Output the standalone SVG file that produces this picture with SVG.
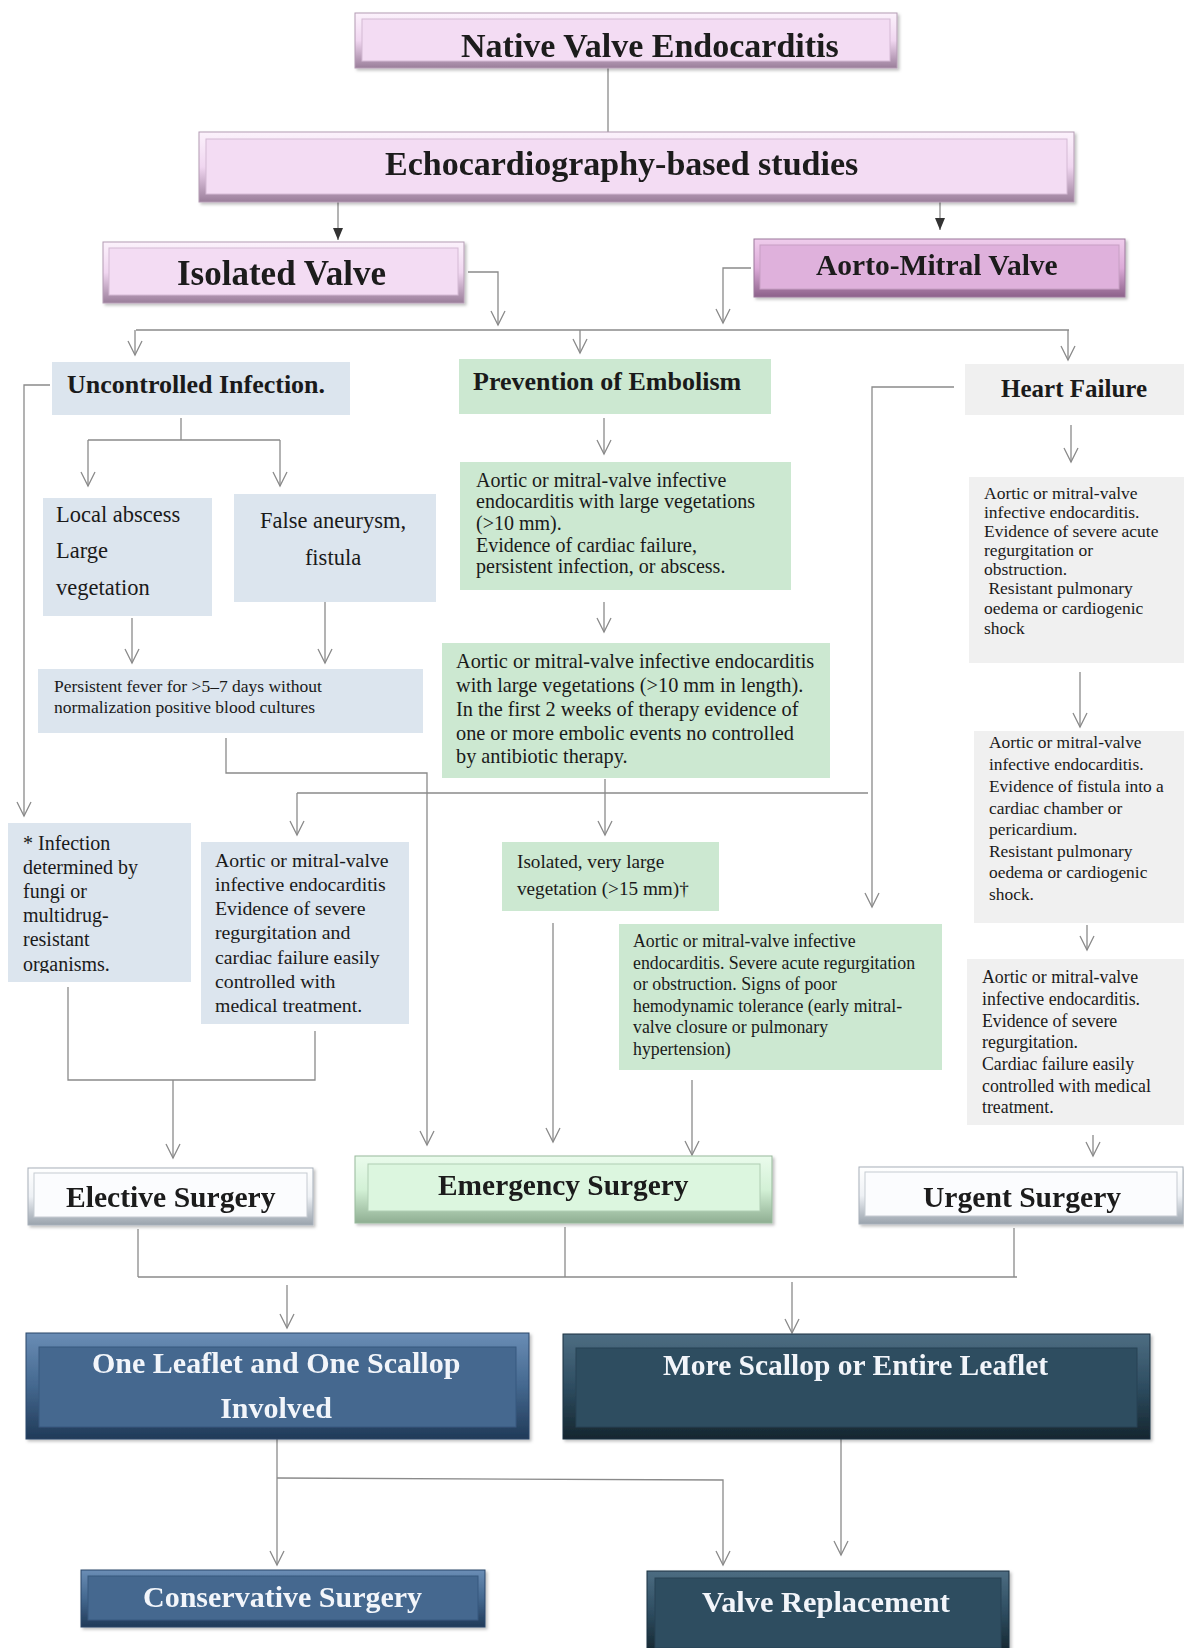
<svg xmlns="http://www.w3.org/2000/svg" width="1184" height="1648" viewBox="0 0 1184 1648">
<defs>
  <style>
    .c{fill:none;stroke:#8a8a8a;stroke-width:1.3}
    .a{marker-end:url(#v)}
    .af{marker-end:url(#f)}
    .t{font-family:"Liberation Serif","Times New Roman",serif;fill:#1a1a1a}
    .b{font-weight:bold}
    .w{fill:#f2f5fa}
    .blue{fill:#dce5ee}
    .green{fill:#cce8d1}
    .grey{fill:#f0f0f0}
    .pinkO{fill:url(#gPink);stroke:#b49cb4;stroke-width:1}
    .pinkI{fill:#f3dcf3;stroke:#d4bad4;stroke-width:1}
    .mauveO{fill:url(#gMauve);stroke:#9c789c;stroke-width:1}
    .mauveI{fill:#dfb1dc;stroke:#c7a0c4;stroke-width:1}
    .whiteO{fill:url(#gWhite);stroke:#a7b0ba;stroke-width:1}
    .whiteI{fill:#fbfcfe;stroke:#c6cbd2;stroke-width:1}
    .greenO{fill:url(#gGreen);stroke:#98b99c;stroke-width:1}
    .greenI{fill:#dcf6df;stroke:#b0ceb3;stroke-width:1}
    .navyO{fill:url(#gNavy);stroke:#2b476a;stroke-width:1}
    .navyI{fill:#44688f;stroke:#38597e;stroke-width:1}
    .tealO{fill:url(#gTeal);stroke:#1c3140;stroke-width:1}
    .tealI{fill:#2e4d61;stroke:#284355;stroke-width:1}
  </style>
  <linearGradient id="gPink" x1="0" y1="0" x2="0" y2="1">
    <stop offset="0" stop-color="#fcf2fc"/><stop offset="0.5" stop-color="#f0d6f0"/><stop offset="1" stop-color="#9a7e9a"/>
  </linearGradient>
  <linearGradient id="gMauve" x1="0" y1="0" x2="0" y2="1">
    <stop offset="0" stop-color="#efcdec"/><stop offset="0.5" stop-color="#dcaad8"/><stop offset="1" stop-color="#8c628a"/>
  </linearGradient>
  <linearGradient id="gWhite" x1="0" y1="0" x2="0" y2="1">
    <stop offset="0" stop-color="#ffffff"/><stop offset="0.5" stop-color="#eef1f5"/><stop offset="1" stop-color="#9aa3ad"/>
  </linearGradient>
  <linearGradient id="gGreen" x1="0" y1="0" x2="0" y2="1">
    <stop offset="0" stop-color="#eafbec"/><stop offset="0.5" stop-color="#d3f1d6"/><stop offset="1" stop-color="#8fae92"/>
  </linearGradient>
  <linearGradient id="gNavy" x1="0" y1="0" x2="0" y2="1">
    <stop offset="0" stop-color="#6a8db5"/><stop offset="0.5" stop-color="#44688f"/><stop offset="1" stop-color="#203a58"/>
  </linearGradient>
  <linearGradient id="gTeal" x1="0" y1="0" x2="0" y2="1">
    <stop offset="0" stop-color="#4d6d82"/><stop offset="0.5" stop-color="#2e4d61"/><stop offset="1" stop-color="#15262f"/>
  </linearGradient>
  <filter id="sh" x="-5%" y="-10%" width="110%" height="130%">
    <feDropShadow dx="2" dy="2" stdDeviation="1.5" flood-color="#000" flood-opacity="0.25"/>
  </filter>
  <marker id="v" viewBox="-15 -8 17 16" refX="0" refY="0" markerWidth="17" markerHeight="16" markerUnits="userSpaceOnUse" orient="auto">
    <path d="M-14,-7 L0,0 L-14,7" fill="none" stroke="#8a8a8a" stroke-width="1.3"/>
  </marker>
  <marker id="f" viewBox="-13 -6 14 12" refX="0" refY="0" markerWidth="14" markerHeight="12" markerUnits="userSpaceOnUse" orient="auto">
    <path d="M-12,-5 L0,0 L-12,5Z" fill="#333"/>
  </marker>
  <clipPath id="clipInf"><rect x="8" y="823" width="183" height="150"/></clipPath>
</defs>

<rect x="0" y="0" width="1184" height="1648" fill="#ffffff"/>

<!-- connectors -->
<g id="connectors">
  <line class="c" x1="608" y1="68" x2="608" y2="132"/>
  <line class="c af" x1="338" y1="202" x2="338" y2="240"/>
  <line class="c af" x1="940" y1="202" x2="940" y2="230"/>
  <polyline class="c a" points="468,272 498,272 498,325"/>
  <polyline class="c a" points="751,268 723,268 723,323"/>
  <line class="c" x1="136" y1="330" x2="1069" y2="330"/>
  <line class="c a" x1="135" y1="330" x2="135" y2="355"/>
  <line class="c a" x1="580" y1="330" x2="580" y2="353"/>
  <line class="c a" x1="1068" y1="330" x2="1068" y2="360"/>

  <polyline class="c a" points="50,385 24,385 24,816"/>
  <line class="c" x1="181" y1="418" x2="181" y2="440"/>
  <line class="c" x1="88" y1="440" x2="280" y2="440"/>
  <line class="c a" x1="88" y1="440" x2="88" y2="486"/>
  <line class="c a" x1="280" y1="440" x2="280" y2="486"/>
  <line class="c a" x1="132" y1="618" x2="132" y2="663"/>
  <line class="c a" x1="325" y1="602" x2="325" y2="663"/>
  <polyline class="c a" points="226,738 226,773 427,773 427,1145"/>

  <line class="c a" x1="604" y1="418" x2="604" y2="454"/>
  <line class="c a" x1="604" y1="602" x2="604" y2="632"/>
  <line class="c" x1="297" y1="793" x2="868" y2="793"/>
  <line class="c a" x1="297" y1="793" x2="297" y2="835"/>
  <line class="c a" x1="605" y1="779" x2="605" y2="835"/>

  <polyline class="c a" points="954,387 872,387 872,907"/>
  <line class="c a" x1="1071" y1="425" x2="1071" y2="462"/>
  <line class="c a" x1="1080" y1="672" x2="1080" y2="727"/>
  <line class="c a" x1="1087" y1="925" x2="1087" y2="950"/>
  <line class="c a" x1="1093" y1="1135" x2="1093" y2="1156"/>

  <polyline class="c" points="68,987 68,1080 315,1080 315,1031"/>
  <line class="c a" x1="173" y1="1080" x2="173" y2="1158"/>
  <line class="c a" x1="553" y1="923" x2="553" y2="1142"/>
  <line class="c a" x1="692" y1="1080" x2="692" y2="1155"/>

  <line class="c" x1="138" y1="1229" x2="138" y2="1277"/>
  <line class="c" x1="565" y1="1227" x2="565" y2="1277"/>
  <line class="c" x1="1014" y1="1228" x2="1014" y2="1277"/>
  <line class="c" x1="138" y1="1277" x2="1017" y2="1277"/>
  <line class="c a" x1="287" y1="1285" x2="287" y2="1328"/>
  <line class="c a" x1="792" y1="1282" x2="792" y2="1333"/>

  <line class="c a" x1="277" y1="1439" x2="277" y2="1565"/>
  <polyline class="c a" points="277,1478 723,1480 723,1565"/>
  <line class="c a" x1="841" y1="1439" x2="841" y2="1555"/>
</g>

<!-- header boxes -->
<g id="n-native" filter="url(#sh)">
  <rect class="pinkO" x="355" y="13" width="542" height="55"/>
  <rect class="pinkI" x="362" y="19" width="528" height="42"/>
  <text class="t b" x="461" y="57" font-size="34">Native Valve Endocarditis</text>
</g>
<g id="n-echo" filter="url(#sh)">
  <rect class="pinkO" x="199" y="132" width="875" height="70"/>
  <rect class="pinkI" x="206" y="139" width="861" height="55"/>
  <text class="t b" x="385" y="175" font-size="34">Echocardiography-based studies</text>
</g>
<g id="n-isolated" filter="url(#sh)">
  <rect class="pinkO" x="103" y="242" width="361" height="61"/>
  <rect class="pinkI" x="109" y="248" width="349" height="47"/>
  <text class="t b" x="177" y="285" font-size="35">Isolated Valve</text>
</g>
<g id="n-aortomitral" filter="url(#sh)">
  <rect class="mauveO" x="754" y="239" width="371" height="58"/>
  <rect class="mauveI" x="760" y="245" width="359" height="44"/>
  <text class="t b" x="816" y="275" font-size="29.5">Aorto-Mitral Valve</text>
</g>

<!-- uncontrolled infection column -->
<g id="n-uncontrolled">
  <rect class="blue" x="52" y="362" width="298" height="53"/>
  <text class="t b" x="67" y="393" font-size="26">Uncontrolled Infection.</text>
</g>
<g id="n-local">
  <rect class="blue" x="43" y="498" width="169" height="118"/>
  <text class="t" font-size="22.5"><tspan x="56" y="522">Local abscess</tspan><tspan x="56" y="558">Large</tspan><tspan x="56" y="595">vegetation</tspan></text>
</g>
<g id="n-false">
  <rect class="blue" x="234" y="494" width="202" height="108"/>
  <text class="t" font-size="22.5" text-anchor="middle"><tspan x="333" y="528">False aneurysm,</tspan><tspan x="333" y="565">fistula</tspan></text>
</g>
<g id="n-fever">
  <rect class="blue" x="38" y="669" width="385" height="64"/>
  <text class="t" font-size="17.5"><tspan x="54" y="692">Persistent fever for &gt;5–7 days without</tspan><tspan x="54" y="713">normalization positive blood cultures</tspan></text>
</g>
<g id="n-fungi">
  <rect class="blue" x="8" y="823" width="183" height="159"/>
  <text class="t" font-size="20" clip-path="url(#clipInf)"><tspan x="23" y="850">* Infection</tspan><tspan x="23" y="874">determined by</tspan><tspan x="23" y="898">fungi or</tspan><tspan x="23" y="922">multidrug-</tspan><tspan x="23" y="946">resistant</tspan><tspan x="23" y="971">organisms.</tspan></text>
</g>
<g id="n-regurg-blue">
  <rect class="blue" x="201" y="842" width="208" height="182"/>
  <text class="t" font-size="19.8"><tspan x="215" y="867">Aortic or mitral-valve</tspan><tspan x="215" y="891">infective endocarditis</tspan><tspan x="215" y="915">Evidence of severe</tspan><tspan x="215" y="939">regurgitation and</tspan><tspan x="215" y="964">cardiac failure easily</tspan><tspan x="215" y="988">controlled with</tspan><tspan x="215" y="1012">medical treatment.</tspan></text>
</g>

<!-- prevention of embolism column -->
<g id="n-prevention">
  <rect class="green" x="459" y="359" width="312" height="55"/>
  <text class="t b" x="473" y="390" font-size="26">Prevention of Embolism</text>
</g>
<g id="n-veg10">
  <rect class="green" x="460" y="462" width="331" height="128"/>
  <text class="t" font-size="20"><tspan x="476" y="487">Aortic or mitral-valve infective</tspan><tspan x="476" y="508">endocarditis with large vegetations</tspan><tspan x="476" y="530">(&gt;10 mm).</tspan><tspan x="476" y="552">Evidence of cardiac failure,</tspan><tspan x="476" y="573">persistent infection, or abscess.</tspan></text>
</g>
<g id="n-emboli">
  <rect class="green" x="442" y="643" width="388" height="135"/>
  <text class="t" font-size="20.3"><tspan x="456" y="668">Aortic or mitral-valve infective endocarditis</tspan><tspan x="456" y="692">with large vegetations (&gt;10 mm in length).</tspan><tspan x="456" y="716">In the first 2 weeks of therapy evidence of</tspan><tspan x="456" y="740">one or more embolic events no controlled</tspan><tspan x="456" y="763">by antibiotic therapy.</tspan></text>
</g>
<g id="n-veg15">
  <rect class="green" x="502" y="842" width="217" height="69"/>
  <text class="t" font-size="19.2"><tspan x="517" y="868">Isolated, very large</tspan><tspan x="517" y="895">vegetation (&gt;15 mm)†</tspan></text>
</g>
<g id="n-acute-green">
  <rect class="green" x="619" y="924" width="323" height="146"/>
  <text class="t" font-size="17.8"><tspan x="633" y="947">Aortic or mitral-valve infective</tspan><tspan x="633" y="969">endocarditis. Severe acute regurgitation</tspan><tspan x="633" y="990">or obstruction. Signs of poor</tspan><tspan x="633" y="1012">hemodynamic tolerance (early mitral-</tspan><tspan x="633" y="1033">valve closure or pulmonary</tspan><tspan x="633" y="1055">hypertension)</tspan></text>
</g>

<!-- heart failure column -->
<g id="n-heartfailure">
  <rect class="grey" x="965" y="364" width="219" height="51"/>
  <text class="t b" x="1001" y="397" font-size="25">Heart Failure</text>
</g>
<g id="n-hf-acute">
  <rect class="grey" x="969" y="477" width="215" height="186"/>
  <text class="t" font-size="17.5"><tspan x="984" y="499">Aortic or mitral-valve</tspan><tspan x="984" y="518">infective endocarditis.</tspan><tspan x="984" y="537">Evidence of severe acute</tspan><tspan x="984" y="556">regurgitation or</tspan><tspan x="984" y="575">obstruction.</tspan><tspan x="984" y="594" xml:space="preserve"> Resistant pulmonary</tspan><tspan x="984" y="614">oedema or cardiogenic</tspan><tspan x="984" y="634">shock</tspan></text>
</g>
<g id="n-hf-fistula">
  <rect class="grey" x="974" y="731" width="210" height="192"/>
  <text class="t" font-size="17.4"><tspan x="989" y="748">Aortic or mitral-valve</tspan><tspan x="989" y="770">infective endocarditis.</tspan><tspan x="989" y="792">Evidence of fistula into a</tspan><tspan x="989" y="814">cardiac chamber or</tspan><tspan x="989" y="835">pericardium.</tspan><tspan x="989" y="857">Resistant pulmonary</tspan><tspan x="989" y="878">oedema or cardiogenic</tspan><tspan x="989" y="900">shock.</tspan></text>
</g>
<g id="n-hf-controlled">
  <rect class="grey" x="967" y="959" width="217" height="166"/>
  <text class="t" font-size="17.8"><tspan x="982" y="983">Aortic or mitral-valve</tspan><tspan x="982" y="1005">infective endocarditis.</tspan><tspan x="982" y="1027">Evidence of severe</tspan><tspan x="982" y="1048">regurgitation.</tspan><tspan x="982" y="1070">Cardiac failure easily</tspan><tspan x="982" y="1092">controlled with medical</tspan><tspan x="982" y="1113">treatment.</tspan></text>
</g>

<!-- surgery timing -->
<g id="n-elective" filter="url(#sh)">
  <rect class="whiteO" x="28" y="1168" width="285" height="57"/>
  <rect class="whiteI" x="34" y="1173" width="273" height="44"/>
  <text class="t b" x="66" y="1207" font-size="29.6">Elective Surgery</text>
</g>
<g id="n-emergency" filter="url(#sh)">
  <rect class="greenO" x="355" y="1156" width="417" height="67"/>
  <rect class="greenI" x="368" y="1164" width="392" height="47"/>
  <text class="t b" x="438" y="1195" font-size="29.4">Emergency Surgery</text>
</g>
<g id="n-urgent" filter="url(#sh)">
  <rect class="whiteO" x="859" y="1167" width="324" height="57"/>
  <rect class="whiteI" x="865" y="1172" width="312" height="44"/>
  <text class="t b" x="923" y="1207" font-size="29.6">Urgent Surgery</text>
</g>

<!-- lesion extent -->
<g id="n-oneleaflet" filter="url(#sh)">
  <rect class="navyO" x="26" y="1333" width="503" height="106"/>
  <rect class="navyI" x="39" y="1347" width="477" height="80"/>
  <text class="t b w" x="92" y="1373" font-size="30">One Leaflet and One Scallop</text>
  <text class="t b w" x="276" y="1418" font-size="30" text-anchor="middle">Involved</text>
</g>
<g id="n-morescallop" filter="url(#sh)">
  <rect class="tealO" x="563" y="1334" width="587" height="105"/>
  <rect class="tealI" x="576" y="1348" width="561" height="79"/>
  <text class="t b w" x="663" y="1375" font-size="29.5">More Scallop or Entire Leaflet</text>
</g>

<!-- procedures -->
<g id="n-conservative" filter="url(#sh)">
  <rect class="navyO" x="81" y="1570" width="404" height="57" stroke="#2c4a2c" stroke-width="2"/>
  <rect class="navyI" x="88" y="1576" width="390" height="44"/>
  <text class="t b w" x="143" y="1607" font-size="30">Conservative Surgery</text>
</g>
<g id="n-replacement" filter="url(#sh)">
  <rect class="tealO" x="647" y="1571" width="362" height="82" stroke="#2a3f2a" stroke-width="2"/>
  <rect class="tealI" x="655" y="1578" width="346" height="70"/>
  <text class="t b w" x="702" y="1612" font-size="30.4">Valve Replacement</text>
</g>
</svg>
